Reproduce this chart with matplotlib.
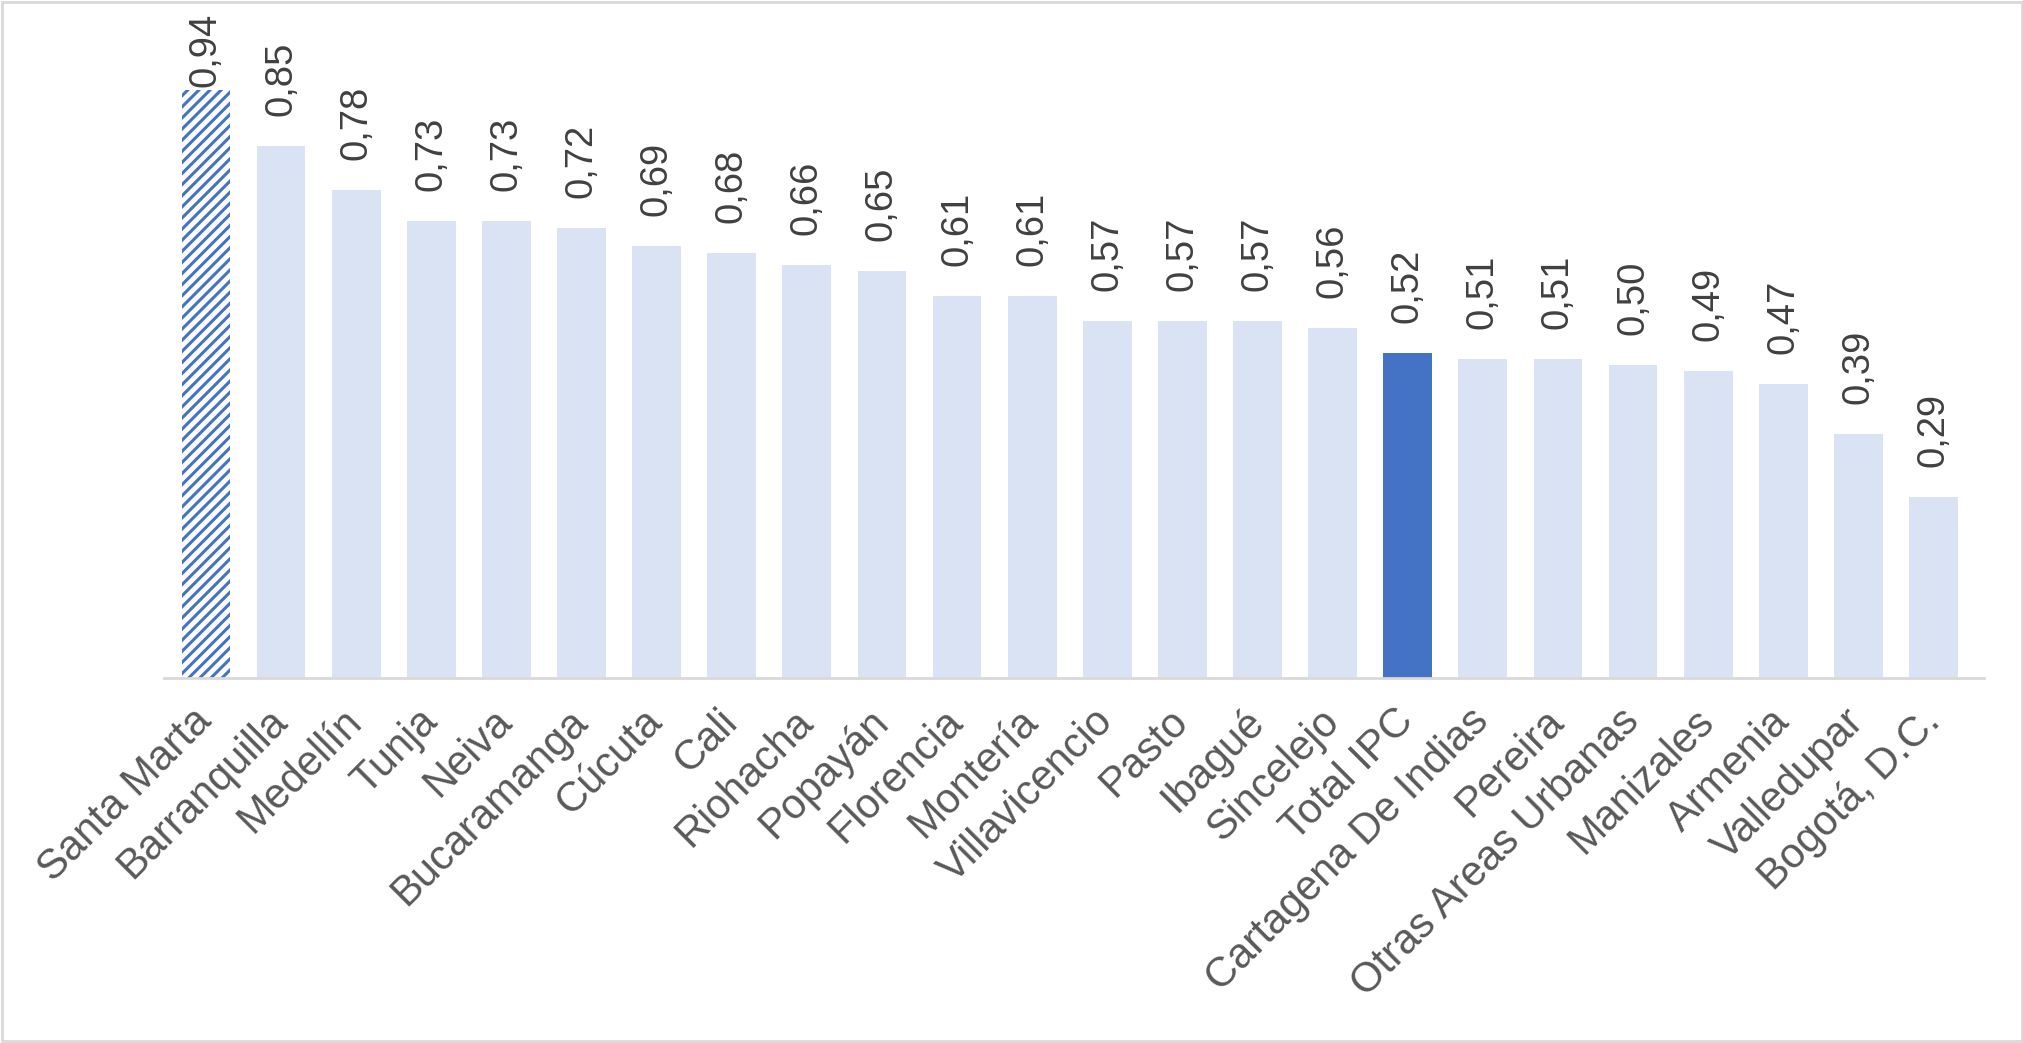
import numpy as np
import matplotlib
matplotlib.use("Agg")
import matplotlib.pyplot as plt
from matplotlib.patches import Rectangle

# data
ciudades = ["Santa Marta", "Barranquilla", "Medellín", "Tunja", "Neiva",
            "Bucaramanga", "Cúcuta", "Cali", "Riohacha", "Popayán",
            "Florencia", "Montería", "Villavicencio", "Pasto", "Ibagué",
            "Sincelejo", "Total IPC", "Cartagena De Indias", "Pereira",
            "Otras Areas Urbanas", "Manizales", "Armenia", "Valledupar",
            "Bogotá, D.C."]
valores = [0.94, 0.85, 0.78, 0.73, 0.73, 0.72, 0.69, 0.68, 0.66, 0.65,
           0.61, 0.61, 0.57, 0.57, 0.57, 0.56, 0.52, 0.51, 0.51, 0.50,
           0.49, 0.47, 0.39, 0.29]
destacada = "Santa Marta"
total = "Total IPC"

plt.rcParams['font.family'] = ['Liberation Sans', 'DejaVu Sans']
plt.rcParams['hatch.linewidth'] = 2.2
plt.rcParams['hatch.color'] = '#4472C4'

fig = plt.figure(figsize=(20.24, 10.43), dpi=100)
ax = fig.add_axes([0.081, 0.350, 0.899, 0.5997])

x = np.arange(len(ciudades))
bars = ax.bar(x, valores, width=0.65, color='#DAE3F3', linewidth=0)
for b, c in zip(bars, ciudades):
    if c == total:
        b.set_facecolor('#4472C4')
    elif c == destacada:
        b.set_facecolor('white')
        b.set_hatch('///')
        b.set_edgecolor('#4472C4')
        b.set_linewidth(0)

ax.set_xlim(-0.559, 23.666)
ax.set_ylim(0, 1.0)

# value labels, vertical, kept inside the picture
for xi, v in zip(x, valores):
    y = min(v + 0.048, 0.945)
    ax.text(xi, y, f"{v:.2f}".replace('.', ','), rotation=90,
            ha='center', va='bottom', fontsize=27.5, color='#404040',
            clip_on=False)

ax.set_xticks(x)
ax.set_xticklabels(ciudades, rotation=45, ha='right', va='center',
                   rotation_mode='anchor', fontsize=30, color='#595959')
ax.tick_params(axis='x', length=0, pad=27)
ax.set_yticks([])
for s in ['left', 'right', 'top']:
    ax.spines[s].set_visible(False)
ax.spines['bottom'].set_color('#D9D9D9')
ax.spines['bottom'].set_linewidth(2)

# thin frame around the whole chart
fig.patches.append(Rectangle((0.001, 0.002), 0.998, 0.996, transform=fig.transFigure,
                             fill=False, edgecolor='#D9D9D9', linewidth=2))

fig.savefig("out.png", dpi=100)
